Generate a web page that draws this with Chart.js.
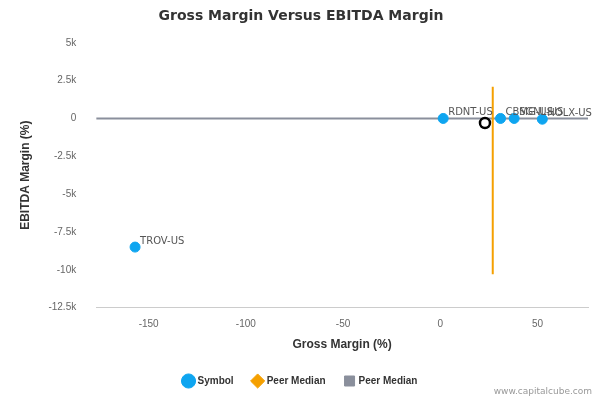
<!DOCTYPE html>
<html><head><meta charset="utf-8">
<script src="https://cdn.jsdelivr.net/npm/chart.js@4"></script>
<style>
html,body{margin:0;background:#fff;font-family:"DejaVu Sans",sans-serif}
#wrap{position:relative;width:600px;height:400px}
#credit{position:absolute;right:8px;bottom:4px;font-size:9px;color:#999}
</style></head><body>
<div id="wrap"><canvas id="c" width="600" height="400"></canvas><div id="credit">www.capitalcube.com</div></div>
<script>
// company points: gross margin %, EBITDA margin %
const symbols = ['TROV-US','RDNT-US','CBMG-US','SGNL-US','HOLX-US'];
const grossMargin = [-157, 1.5, 31, 38, 52.5];
const ebitdaMargin = [-8500, 0, 0, 0, -50];
const medianPoint = {x: 23, y: -300};
const peerMedianX = 27;
const peerVLine = [2100, -10300];
const xRange = [-177, 76];
const legendStyles = ['circle','rectRot','rect'];

const labelPlugin = {
  id:'labels',
  afterDatasetsDraw(chart){
    const ctx = chart.ctx, meta = chart.getDatasetMeta(0);
    ctx.save(); ctx.font='10px "DejaVu Sans"'; ctx.fillStyle='#555';
    meta.data.forEach((p,i)=>ctx.fillText(symbols[i], p.x+5, p.y-6));
    ctx.restore();
  }
};

new Chart(document.getElementById('c'), {
  type:'scatter',
  data:{datasets:[
    {label:'Symbol', data:grossMargin.map((x,i)=>({x, y:ebitdaMargin[i]})),
     backgroundColor:'#0ea5f0', borderColor:'#0ea5f0', pointRadius:5, order:1},
    {label:'Peer Median', type:'line', data:peerVLine.map(y=>({x:peerMedianX, y})),
     borderColor:'#f5a000', backgroundColor:'#f5a000', borderWidth:2, pointRadius:0, order:3},
    {label:'Peer Median', type:'line', data:xRange.map(x=>({x, y:0})),
     borderColor:'#8a8f9c', backgroundColor:'#8a8f9c', borderWidth:2, pointRadius:0, order:4},
    {label:'median', data:[medianPoint], backgroundColor:'#fff', borderColor:'#000',
     borderWidth:2.5, pointRadius:5, order:0}
  ]},
  options:{
    responsive:false, animation:false,
    layout:{padding:{left:14,right:12,top:0,bottom:4}},
    plugins:{
      title:{display:true, text:'Gross Margin Versus EBITDA Margin', color:'#333',
        font:{size:14,weight:'bold',family:'"DejaVu Sans"'}, padding:{top:8,bottom:18}},
      legend:{position:'bottom', labels:{usePointStyle:true,
        color:'#333', font:{size:10,weight:'bold'}, boxWidth:8, padding:20,
        generateLabels(chart){
          return chart.data.datasets.slice(0,3).map((d,i)=>({
            text:d.label, fillStyle:d.backgroundColor, strokeStyle:d.borderColor,
            lineWidth:1, pointStyle:legendStyles[i], datasetIndex:i, fontColor:'#333'}));
        }}},
      tooltip:{enabled:false}
    },
    scales:{
      x:{type:'linear', min:xRange[0], max:xRange[1],
        afterBuildTicks(s){ s.ticks=[-150,-100,-50,0,50].map(v=>({value:v})); },
        title:{display:true, text:'Gross Margin (%)', color:'#333', font:{size:12,weight:'bold'}},
        ticks:{color:'#666', font:{size:10}}, grid:{display:false},
        border:{color:'#ccc'}},
      y:{min:-12500, max:5000,
        ticks:{stepSize:2500, color:'#666', font:{size:10}, padding:12,
          callback:v=>v===0?'0':(v/1000)+'k'},
        title:{display:true, text:'EBITDA Margin (%)', color:'#333', font:{size:12,weight:'bold'}},
        grid:{display:false}, border:{display:false}}
    }
  },
  plugins:[labelPlugin]
});
</script></body></html>
